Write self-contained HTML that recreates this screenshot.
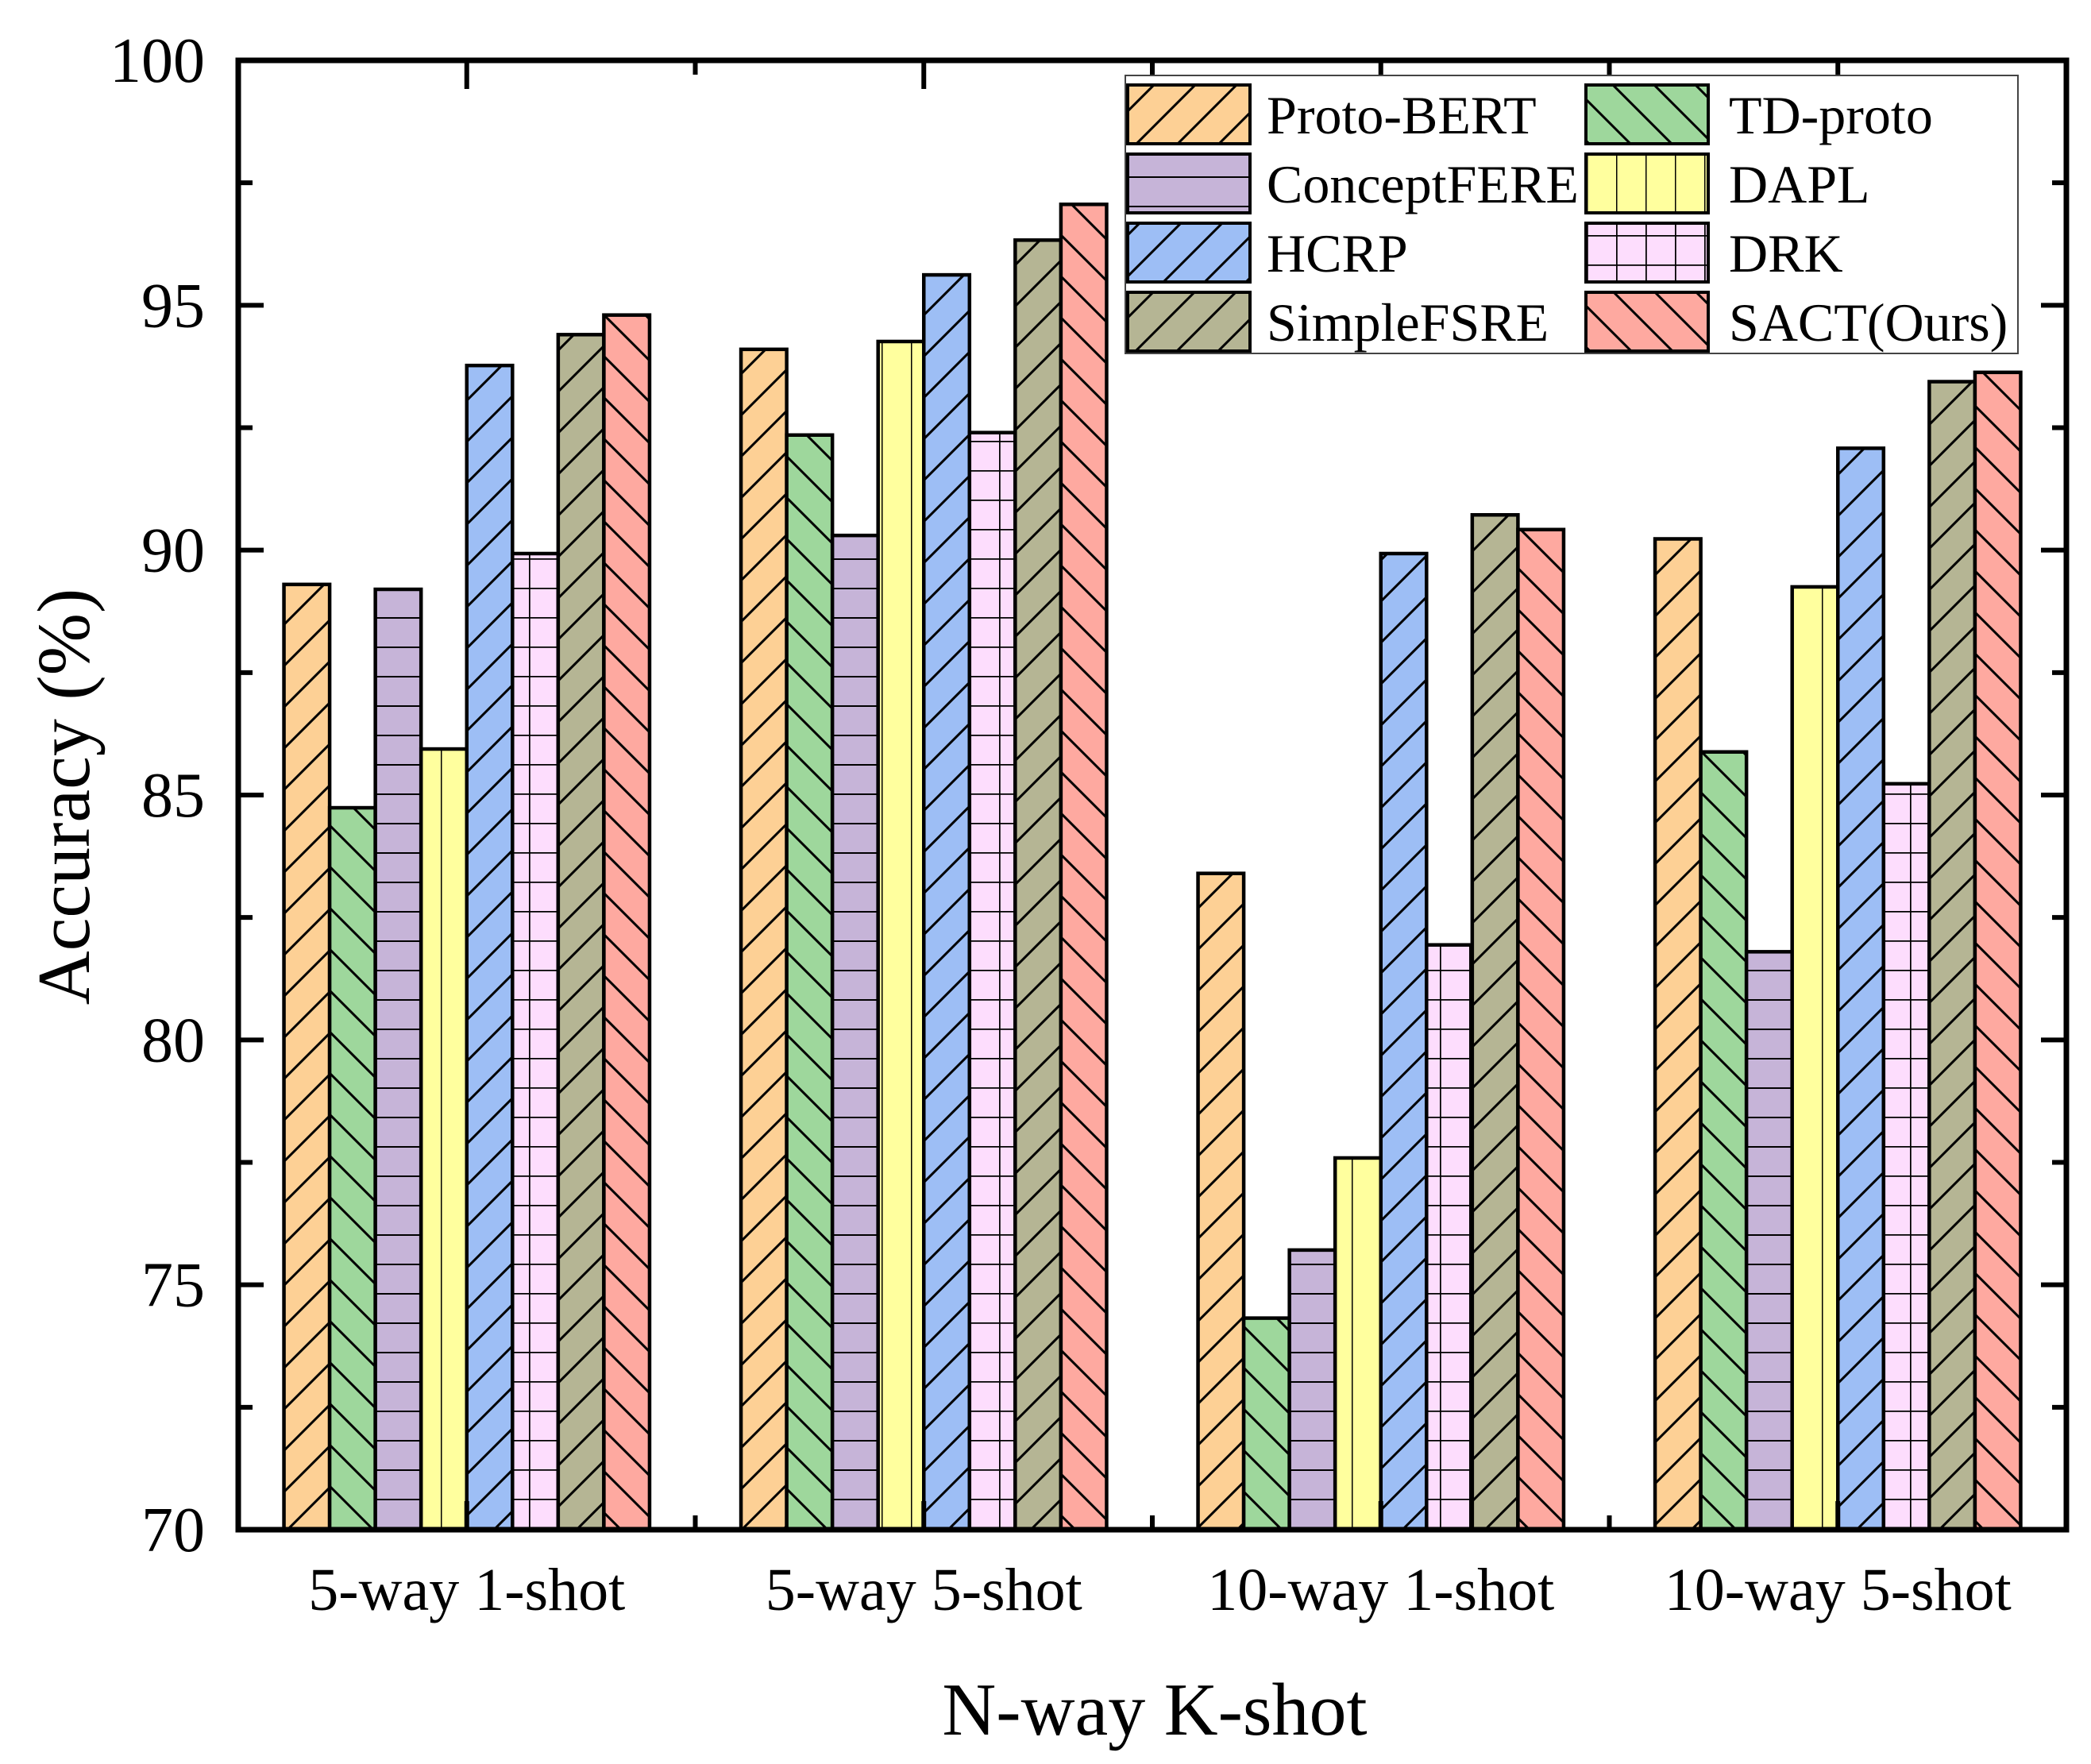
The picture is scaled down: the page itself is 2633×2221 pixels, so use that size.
<!DOCTYPE html>
<html><head><meta charset="utf-8"><style>
body{margin:0;background:#fff}
svg{display:block;font-family:"Liberation Serif",serif}
</style></head><body>
<svg id="chart" width="2633" height="2221" viewBox="0 0 2633 2221" xmlns="http://www.w3.org/2000/svg">
<defs>
<pattern id="p-fwd" patternUnits="userSpaceOnUse" width="52" height="52"><path d="M-13,13 L13,-13 M0,52 L52,0 M39,65 L65,39" stroke="#000" stroke-width="3"/></pattern>
<pattern id="p-back" patternUnits="userSpaceOnUse" width="52" height="52"><path d="M-13,39 L13,65 M0,0 L52,52 M39,-13 L65,13" stroke="#000" stroke-width="3"/></pattern>
<pattern id="p-horiz" patternUnits="userSpaceOnUse" width="37" height="37"><path d="M0,0.5 L37,0.5" stroke="#000" stroke-width="3"/></pattern>
<pattern id="p-vert" patternUnits="userSpaceOnUse" width="37" height="37"><path d="M0.5,0 L0.5,37" stroke="#000" stroke-width="2"/></pattern>
<pattern id="p-grid" patternUnits="userSpaceOnUse" width="37" height="37"><path d="M0.5,0 L0.5,37 M0,0.5 L37,0.5" stroke="#000" stroke-width="2.5"/></pattern>
</defs>
<g id="bars"></g>
<g id="axes"></g>
<g id="legend"></g>
</svg>
<script>
const categories = ["5-way 1-shot","5-way 5-shot","10-way 1-shot","10-way 5-shot"];
const seriesNames = ["Proto-BERT","TD-proto","ConceptFERE","DAPL","HCRP","DRK","SimpleFSRE","SACT(Ours)"];
const protoBert = [89.3, 94.1, 83.4, 90.23];
const tdProto = [84.74, 92.35, 74.32, 85.88];
const conceptFere = [89.2, 90.3, 75.71, 81.8];
const dapl = [85.94, 94.26, 77.59, 89.25];
const hcrp = [93.77, 95.62, 89.93, 92.08];
const drk = [89.93, 92.4, 81.94, 85.23];
const simpleFsre = [94.4, 96.33, 90.72, 93.44];
const sact = [94.8, 97.06, 90.42, 93.63];
const yTicks = [70,75,80,85,90,95,100];
const seriesValues = [protoBert, tdProto, conceptFere, dapl, hcrp, drk, simpleFsre, sact];

const fills = ["#FDD095","#9ED79C","#C6B4D8","#FFFF9E","#9DBEF5","#FDDDFD","#B5B594","#FEA9A0"];
const pats = ["p-fwd","p-back","p-horiz","p-vert","p-fwd","p-grid","p-fwd","p-back"];
const NS = "http://www.w3.org/2000/svg";
const L=300, R=2602, T=76, B=1926, yMin=70, yMax=100;
const unit = (R-L)/categories.length;
const xS = i => L + unit*(i+0.5);
const yS = v => B - (v-yMin)/(yMax-yMin)*(B-T);
function mk(tag, attrs, parent){const e=document.createElementNS(NS,tag);for(const k in attrs)e.setAttribute(k,attrs[k]);parent.appendChild(e);return e;}
const bars=document.getElementById('bars'), axes=document.getElementById('axes'), leg=document.getElementById('legend');
const bw = unit*0.8/seriesNames.length;
categories.forEach((c,ci)=>{
  const x0 = xS(ci) - unit*0.4;
  seriesValues.forEach((vals,si)=>{
    const x = x0 + si*bw, y = yS(vals[ci]), h = B - y;
    const g = mk('g',{},bars);
    
    
    mk('rect',{x:x,y:y,width:bw,height:h,fill:fills[si]},g);
    mk('rect',{x:x,y:y,width:bw,height:h,fill:'url(#'+pats[si]+')'},g);
    mk('rect',{x:x,y:y,width:bw,height:h,fill:'none',stroke:'#000','stroke-width':4.5},g);
  });
  const t = mk('text',{x:xS(ci),y:2027,'font-size':76,'text-anchor':'middle'},axes);
  t.textContent=c;
  
  
});
// frame
const frame = mk('rect',{x:L,y:T,width:R-L,height:B-T,fill:'none',stroke:'#000','stroke-width':7},axes);


// y ticks
for(let v=yMin; v<=yMax; v+=2.5){
  const major = (v%5===0), len = major?32:18, y=yS(v);
  mk('line',{x1:L,x2:L+len,y1:y,y2:y,stroke:'#000','stroke-width':6},axes);
  mk('line',{x1:R,x2:R-len,y1:y,y2:y,stroke:'#000','stroke-width':6},axes);
}
yTicks.forEach(v=>{
  const t=mk('text',{x:258,y:yS(v)+27,'font-size':80,'text-anchor':'end'},axes);
  t.textContent=v;
  
  
});
// x ticks on top/bottom
for(let i=0;i<=categories.length*2;i++){
  const x=L+unit*i/2; if(i===0||i===categories.length*2) continue;
  const major = (i%2===1), len = major?36:18;
  mk('line',{x1:x,x2:x,y1:T,y2:T+len,stroke:'#000','stroke-width':6},axes);
  mk('line',{x1:x,x2:x,y1:B,y2:B-len,stroke:'#000','stroke-width':6},axes);
}
const xt=mk('text',{x:1454,y:2184,'font-size':94,'text-anchor':'middle'},axes);
xt.textContent='N-way K-shot';


const yt=mk('text',{x:0,y:0,'font-size':94,'text-anchor':'middle',transform:'translate(112,1003) rotate(-90)'},axes);
yt.textContent='Accuracy (%)';


// legend
const lb=mk('rect',{x:1417,y:95,width:1124,height:350,fill:'#fff',stroke:'#444','stroke-width':2},leg);


seriesNames.forEach((n,si)=>{
  const col = si%2, row = Math.floor(si/2);
  const sx = col? 1997:1420, sy = 107 + row*87;
  const g=mk('g',{},leg);
  
  
  mk('rect',{x:sx,y:sy,width:154,height:74,fill:fills[si]},g);
  mk('rect',{x:sx,y:sy,width:154,height:74,fill:'url(#'+pats[si]+')'},g);
  mk('rect',{x:sx,y:sy,width:154,height:74,fill:'none',stroke:'#000','stroke-width':4},g);
  const t=mk('text',{x:col?2177:1595,y:sy+61,'font-size':68},g);
  t.textContent=n;
});
</script>
</body></html>
